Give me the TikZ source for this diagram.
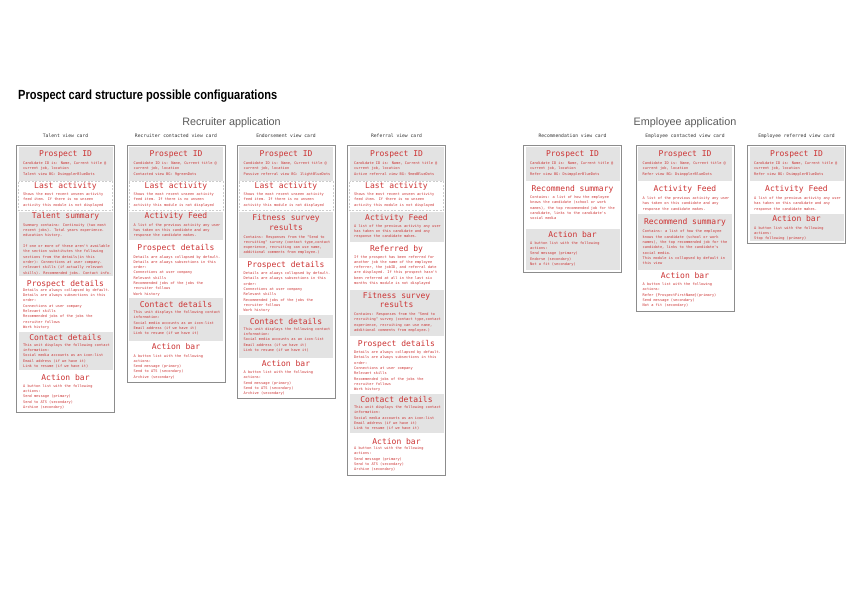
\documentclass[tikz,border=0pt]{standalone}
\usepackage{fontspec}
\usepackage{graphicx}
\setmainfont{Liberation Sans}
\newfontfamily\monof{DejaVu Sans Mono}
\newfontfamily\headf{Liberation Sans}
\definecolor{cred}{RGB}{204,51,51}
\definecolor{cgray}{RGB}{227,227,227}
\definecolor{cframe}{RGB}{140,140,140}
\definecolor{cdash}{RGB}{205,205,205}
\definecolor{chead}{RGB}{90,90,90}
\tikzset{
  secg/.style={fill=cgray},
  secw/.style={},
  secd/.style={draw=cdash, dash pattern=on 2pt off 1.5pt, line width=0.6pt},
  ttl/.style={anchor=base, inner sep=0pt, text=cred, font=\monof\fontsize{8}{9.6}\selectfont},
  bdy/.style={anchor=base west, inner sep=0pt, text=cred, font=\monof\fontsize{3.6}{5.3}\selectfont},
  cframeline/.style={draw=cframe, line width=0.8pt},
  clbl/.style={anchor=base, inner sep=0pt, text=black!80, font=\monof\fontsize{4.7}{5}\selectfont},
  head/.style={anchor=base, inner sep=0pt, text=chead, font=\headf\fontsize{10.8}{12}\selectfont},
}
\newcommand\sect[9]{%
  \path[#5] (#2+2,#3) rectangle (#2+96,#4);
  \node[ttl] (#1t) at (#2+49,#6+2.9) {\parbox[t]{94pt}{\centering #7}};
  \node[bdy] (#1b) at (#2+6.5,#8+1.3) {\parbox[t]{92pt}{\raggedright #9}};
}
\newcommand\card[4]{%
  \draw[cframeline] (#2,145) rectangle (#2+98,#3);
  \node[clbl] (#1lbl) at (#2+49,137) {#4};
}
\newcommand\txtID[1]{Candidate ID is: Name, Current title @\\current job, location\\#1}
\newcommand\txtLA{Shows the most recent unseen activity\\feed item. If there is no unseen\\activity this module is not displayed}
\newcommand\txtAF{A list of the previous activity any user\\has taken on this candidate and any\\response the candidate makes.}
\newcommand\txtPD{Details are always collapsed by default.\\Details are always subsections in this\\order:\\Connections at user company\\Relevant skills\\Recommended jobs of the jobs the\\recruiter follows\\Work history}
\newcommand\txtCD{This unit displays the following contact\\information:\\Social media accounts as an icon-list\\Email address (if we have it)\\Link to resume (if we have it)}
\newcommand\txtAB{A button list with the following\\actions:\\Send message (primary)\\Send to ATS (secondary)\\Archive (secondary)}
\newcommand\txtFS{Contains: Responses from the "Send to\\recruiting" survey (contact type,contact\\experience, recruiting can use name,\\additional comments from employee.)}
\begin{document}
\begin{tikzpicture}[x=1pt,y=-1pt]
\fill[white] (0,0) rectangle (860,600);
\useasboundingbox (0,0) rectangle (860,600);

\node[anchor=base west, inner sep=0pt] (title) at (18,99.3) {\resizebox{259pt}{9.6pt}{\headf\bfseries Prospect card structure possible configuarations}};
\node[head] (rec) at (231.5,125.5) {Recruiter application};
\node[head] (emp) at (685,125.5) {Employee application};

% Card 1
\card{c1}{16.5}{412.5}{Talent view card}
\sect{c1id}{16.5}{147}{181}{secg}{153.3}{Prospect ID}{163.3}{\txtID{Talent view BG: DsimpplerBlueDots}}
\sect{c1la}{16.5}{181.5}{210.5}{secd}{185.7}{Last activity}{194.3}{\txtLA}
\sect{c1ts}{16.5}{212}{275.5}{secg}{216}{Talent summary}{225}{Summary contains: Continuity (two most\\recent jobs). Total years experience.\\education history.\\[5.3pt]If one or more of these aren't available\\the section substitutes the following\\sections from the details(in this\\order): Connections at user company.\\relevant skills (if actually relevant\\skills). Recommended jobs. Contact info.}
\sect{c1pd}{16.5}{275.5}{331.5}{secw}{283.3}{Prospect details}{290}{\txtPD}
\sect{c1cd}{16.5}{331.5}{370}{secg}{337.7}{Contact details}{345}{\txtCD}
\sect{c1ab}{16.5}{370}{410.5}{secw}{377.3}{Action bar}{386}{\txtAB}

% Card 2
\card{c2}{127}{382}{Recruiter contacted view card}
\sect{c2id}{127}{147}{181}{secg}{153.3}{Prospect ID}{163.3}{\txtID{Contacted view BG: 9greenDots}}
\sect{c2la}{127}{181.5}{210.5}{secd}{185.7}{Last activity}{194.3}{\txtLA}
\sect{c2af}{127}{211.7}{240}{secg}{216}{Activity Feed}{225}{\txtAF}
\sect{c2pd}{127}{240}{298.3}{secw}{247.7}{Prospect details}{256.7}{\txtPD}
\sect{c2cd}{127}{298.3}{341}{secg}{305}{Contact details}{312.3}{\txtCD}
\sect{c2ab}{127}{341}{380}{secw}{347}{Action bar}{355.7}{\txtAB}

% Card 3
\card{c3}{237}{398.5}{Endorsement view card}
\sect{c3id}{237}{147}{181}{secg}{153.3}{Prospect ID}{163.3}{\txtID{Passive referral view BG: 1lightBlueDots}}
\sect{c3la}{237}{181.5}{210.5}{secd}{185.7}{Last activity}{194.3}{\txtLA}
\sect{c3fs}{237}{212}{258.3}{secg}{217.7}{Fitness survey\\results}{236.7}{\txtFS}
\sect{c3pd}{237}{258.3}{314.5}{secw}{264.3}{Prospect details}{273.3}{\txtPD}
\sect{c3cd}{237}{314.5}{357.5}{secg}{321.6}{Contact details}{328.9}{\txtCD}
\sect{c3ab}{237}{357.5}{396.5}{secw}{363.6}{Action bar}{372.3}{\txtAB}

% Card 4
\card{c4}{347.5}{475}{Referral view card}
\sect{c4id}{347.5}{147}{181}{secg}{153.3}{Prospect ID}{163.3}{\txtID{Active referral view BG: 9medBlueDots}}
\sect{c4la}{347.5}{181.5}{210.5}{secd}{185.7}{Last activity}{194.3}{\txtLA}
\sect{c4af}{347.5}{211.7}{241.7}{secg}{217.7}{Activity Feed}{226}{\txtAF}
\sect{c4rb}{347.5}{241.7}{290}{secw}{248.3}{Referred by}{256.7}{If the prospect has been referred for\\another job the name of the employee\\referrer, the jobID, and referral date\\are displayed. If this prospect hasn't\\been referred at all in the last six\\months this module is not displayed}
\sect{c4fs}{347.5}{290}{335.7}{secg}{295.3}{Fitness survey\\results}{314.3}{\txtFS}
\sect{c4pd}{347.5}{335.7}{394.3}{secw}{343.3}{Prospect details}{352.3}{\txtPD}
\sect{c4cd}{347.5}{394.3}{433.3}{secg}{400}{Contact details}{407.3}{\txtCD}
\sect{c4ab}{347.5}{433.3}{473}{secw}{441.7}{Action bar}{448.3}{\txtAB}

% Card 5
\card{c5}{523.5}{272.3}{Recommendation view card}
\sect{c5id}{523.5}{147}{181}{secg}{153.3}{Prospect ID}{163.3}{\txtID{Refer view BG: DsimpplerBlueDots}}
\sect{c5rs}{523.5}{181}{228.5}{secw}{189}{Recommend summary}{197.3}{Contains: a list of how the employee\\knows the candidate (school or work\\names), the top recommended job for the\\candidate, links to the candidate's\\social media}
\sect{c5ab}{523.5}{228.5}{270}{secg}{234.3}{Action bar}{243}{A button list with the following\\actions:\\Send message (primary)\\Endorse (secondary)\\Not a fit (secondary)}

% Card 6
\card{c6}{636}{311.7}{Employee contacted view card}
\sect{c6id}{636}{147}{181}{secg}{153.3}{Prospect ID}{163.3}{\txtID{Refer view BG: DsimpplerBlueDots}}
\sect{c6af}{636}{181}{214.3}{secw}{189}{Activity Feed}{198.3}{\txtAF}
\sect{c6rs}{636}{214.3}{270.3}{secg}{221.7}{Recommend summary}{231.5}{Contains: a list of how the employee\\knows the candidate (school or work\\names), the top recommended job for the\\candidate, links to the candidate's\\social media.\\This module is collapsed by default in\\this view}
\sect{c6ab}{636}{270.3}{309.7}{secw}{275.7}{Action bar}{284.3}{A button list with the following\\actions:\\Refer \{ProspectFirstName\}(primary)\\Send message (secondary)\\Not a fit (secondary)}

% Card 7
\card{c7}{747.5}{243.3}{Employee referred view card}
\sect{c7id}{747.5}{147}{181}{secg}{153.3}{Prospect ID}{163.3}{\txtID{Refer view BG: DsimpplerBlueDots}}
\sect{c7af}{747.5}{181}{214}{secw}{189}{Activity Feed}{198.3}{\txtAF}
\sect{c7ab}{747.5}{214}{241.3}{secg}{219}{Action bar}{227.7}{A button list with the following\\actions:\\Stop following (primary)}
\end{tikzpicture}
\end{document}
